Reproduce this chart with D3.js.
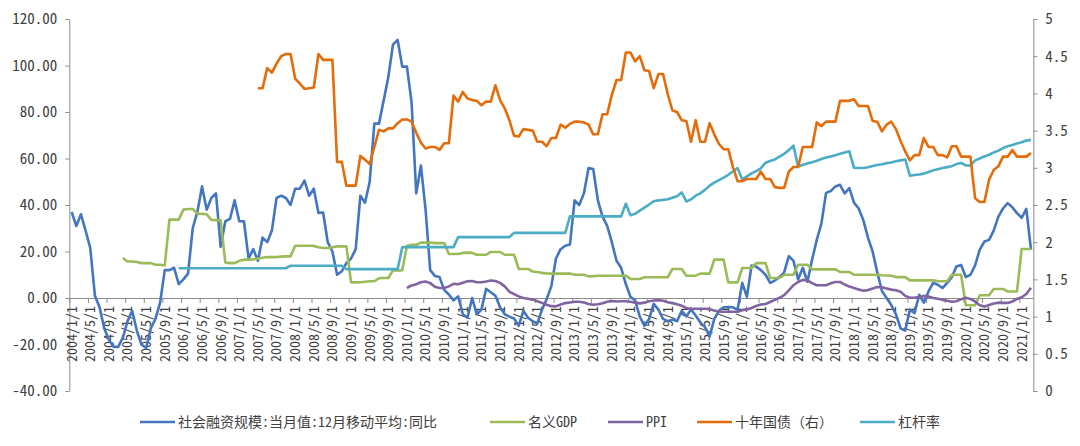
<!DOCTYPE html>
<html>
<head>
<meta charset="utf-8">
<script src="https://cdn.jsdelivr.net/npm/d3@7"></script>
<style>
  html, body { margin: 0; padding: 0; background: #fff; }
  svg { display: block; }
  text { font-family: "Noto Sans Mono CJK SC", "Noto Sans CJK SC", sans-serif; fill: #404040; }
</style>
</head>
<body>
<svg id="chart" width="1080" height="446"></svg>
<script>
// ---------- DATA ----------
const startYear = 2004, monthCount = 207; // 2004/1 .. 2021/3
const months = d3.range(monthCount).map(i => `${startYear + Math.floor(i / 12)}/${(i % 12) + 1}/1`);

const seriesNames = ["社会融资规模:当月值:12月移动平均:同比", "名义GDP", "PPI", "十年国债（右）", "杠杆率"];

const tsf = [
  37, 31, 36, 29, 21.5, 1, -4, -13, -18, -21,
  -21, -17, -10, -5.5, -14, -20, -21.5, -13, -9, -2,
  12, 12, 13, 6, 8, 10.5, 30, 37, 48, 38,
  43, 45, 22, 33, 34, 42, 33, 33, 17, 21,
  16, 26, 24, 29, 43, 44, 43, 40, 47, 47,
  50.5, 44, 47, 36.6, 36.8, 24, 20, 10, 11.5, 15,
  17, 21, 44, 41, 50, 75, 75, 85, 95, 109,
  111, 99.5, 99.5, 84, 45, 57, 38, 12, 9.5, 9,
  3.5, 1.5, -1, 0.7, -7, -8.5, 0, -7, -5, 4,
  2.5, 1, -4, -7, -8, -8.8, -12, -5.5, -8.5, -10,
  -11, -5, -0.5, 5, 17, 21, 22.5, 23, 42, 40,
  45, 55.9, 55.5, 42, 35, 31, 24, 16, 13, 6,
  0.5, -1, -8, -12, -9, -2.5, -5, -9, -10, -9.3,
  -10, -5.5, -7.9, -5, -7.5, -10.5, -12.5, -16.5, -9, -5.5,
  -4, -3.9, -4, -5, 6.5, 0.5, 14, 13.5, 12, 10,
  6.5, 7.5, 9, 11, 18, 16, 8, 13, 7, 16.5,
  25, 32, 45.2, 46, 48, 48.7, 45, 47.3, 41, 38.5,
  33.5, 26, 20, 11, 3, 0, -3, -7, -13, -14,
  -5, -6.5, 1.4, -2, 2.8, 6.5, 5.7, 4.3, 6.5, 9,
  13.6, 14.2, 9, 10, 14, 20.8, 24.3, 25, 29, 35,
  38.5, 40.8, 39, 36.5, 34.5, 38.3, 20.8
];

const gdp = [
  null, null, null, null, null, null, null, null, null, null, null,
  17.2, 15.7, 15.7, 15.5, 15, 15, 15, 14.3, 14.3, 14,
  33.7, 33.7, 33.7, 38, 38.3, 38.3, 36.3, 36.2, 36, 33.6, 33.5, 33.4,
  15.3, 15, 15, 16, 16.5, 16.5, 16.6, 17, 17.3, 17.6, 17.6, 17.6,
  17.8, 17.9, 17.9, 22.5, 22.5, 22.5, 22.5, 22.4, 21.8, 21.5, 21.5, 21.8,
  22.2, 22.2, 22.2, 6.7, 6.7, 6.8, 7, 7.2, 7.2, 8.5, 8.6, 8.6,
  11.9, 11.9, 11.9, 22.5, 22.9, 22.9, 23.8, 23.9, 23.8, 23.6, 23.6, 23.6,
  18.9, 18.9, 18.9, 19.4, 19.5, 19.4, 18.6, 18.6, 18.6, 19.8, 19.8, 19.8,
  18.6, 18.6, 18.6, 12.5, 12.5, 12.5, 11.4, 11.2, 10.8, 10.6, 10.5, 10.5,
  10.5, 10.5, 10.5, 10, 10, 10, 9.3, 9.4, 9.6, 9.6, 9.6, 9.6,
  9.6, 9.6, 9.6, 8.2, 8.2, 8.2, 8.9, 8.9, 8.9, 8.9, 8.9, 8.9,
  12.5, 12.5, 12.5, 9.6, 9.6, 9.6, 10.5, 10.5, 10.5, 16.5, 16.5, 16.5,
  6.7, 6.7, 6.7, 12.9, 12.9, 12.9, 15, 15, 15, 8.6, 8.6, 8.6,
  10, 10, 10, 14.3, 14.3, 14.3, 12.3, 12.3, 12.3, 12.3, 12.3, 12.3,
  11.2, 11.2, 11.2, 10, 10, 10, 10, 10, 10, 9.8, 9.7, 9.6,
  9, 9, 9, 7.6, 7.6, 7.6, 7.6, 7.6, 7.6, 7.2, 7.2, 7.2,
  10, 10, 10, -3.1, -3.1, -3.1, 1.2, 1.2, 1.2, 3.9, 3.9, 3.9,
  2.8, 2.8, 2.8, 21.1, 21.1, 21.1
];

const ppi = [
  null, null, null, null, null, null, null, null, null, null, null, null,
  null, null, null, null, null, null, null, null, null, null, null, null,
  null, null, null, null, null, null, null, null, null, null, null, null,
  null, null, null, null, null, null, null, null, null, null, null, null,
  null, null, null, null, null, null, null, null, null, null, null, null,
  null, null, null, null, null, null, null, null, null, null, null, null,
  4.3, 5.4, 5.9, 6.8, 7.1, 6.4, 4.8, 4.3, 4.3, 5.0, 6.1, 5.9,
  6.6, 7.2, 7.3, 6.8, 6.8, 7.1, 7.5, 7.3, 6.5, 5.0, 2.7, 1.7,
  0.7, 0.0, -0.3, -0.7, -1.4, -2.1, -2.9, -3.5, -3.6, -2.8, -2.2, -1.9,
  -1.6, -1.6, -1.9, -2.6, -2.9, -2.7, -2.3, -1.6, -1.3, -1.5, -1.4, -1.4,
  -1.6, -2.0, -2.3, -2.0, -1.4, -1.1, -0.9, -1.2, -1.8, -2.2, -2.7, -3.3,
  -4.3, -4.8, -4.6, -4.6, -4.6, -4.8, -5.4, -5.9, -5.9, -5.9, -5.9, -5.9,
  -5.3, -4.9, -4.3, -3.4, -2.8, -2.6, -1.7, -0.8, 0.1, 1.2, 3.3, 5.5,
  6.9, 7.8, 7.6, 6.4, 5.5, 5.5, 5.5, 6.3, 6.9, 6.9, 5.8, 4.9,
  4.3, 3.7, 3.1, 3.4, 4.1, 4.7, 4.6, 4.1, 3.6, 3.3, 2.7, 0.9,
  0.1, 0.1, 0.4, 0.9, 0.6, 0.0, -0.3, -0.8, -1.2, -1.6, -1.4, -0.5,
  0.1, -0.4, -1.5, -3.1, -3.7, -3.0, -2.4, -2.0, -2.1, -2.1, -1.5, -0.4,
  0.3, 1.7, 4.4
];

const bond10y = [
  null, null, null, null, null, null, null, null, null, null,
  null, null, null, null, null, null, null, null, null, null,
  null, null, null, null, null, null, null, null, null, null,
  null, null, null, null, null, null, null, null, null, null,
  4.07, 4.07, 4.34, 4.28, 4.4, 4.5, 4.53, 4.53, 4.2, 4.13,
  4.06, 4.07, 4.08, 4.53, 4.45, 4.45, 4.45, 3.08, 3.08, 2.76,
  2.76, 2.76, 3.16, 3.11, 3.05, 3.28, 3.51, 3.49, 3.53, 3.53,
  3.6, 3.65, 3.65, 3.62, 3.47, 3.34, 3.26, 3.28, 3.28, 3.24,
  3.33, 3.33, 3.97, 3.89, 4.02, 3.93, 3.91, 3.9, 3.84, 3.89,
  3.89, 4.11, 3.91, 3.8, 3.64, 3.43, 3.42, 3.52, 3.51, 3.5,
  3.35, 3.35, 3.29, 3.4, 3.4, 3.58, 3.54, 3.59, 3.62, 3.62,
  3.61, 3.58, 3.45, 3.45, 3.72, 3.72, 3.98, 4.18, 4.18, 4.55,
  4.55, 4.43, 4.5, 4.31, 4.3, 4.07, 4.26, 4.26, 3.99, 3.77,
  3.75, 3.64, 3.63, 3.35, 3.64, 3.35, 3.35, 3.6, 3.45, 3.32,
  3.25, 3.25, 3.01, 2.82, 2.82, 2.85, 2.85, 2.85, 2.95, 2.85,
  2.85, 2.74, 2.73, 2.73, 2.95, 3.01, 3.01, 3.28, 3.28, 3.28,
  3.61, 3.56, 3.62, 3.62, 3.62, 3.9, 3.9, 3.9, 3.92, 3.83,
  3.83, 3.83, 3.63, 3.62, 3.49, 3.58, 3.62, 3.52, 3.36, 3.22,
  3.1, 3.17, 3.17, 3.4, 3.28, 3.28, 3.17, 3.17, 3.14, 3.29,
  3.29, 3.15, 3.15, 3.15, 2.59, 2.54, 2.54, 2.84, 2.97, 3.02,
  3.15, 3.15, 3.24, 3.15, 3.15, 3.15, 3.2
];

const leverage = [
  null, null, null, null, null, null, null, null, null, null,
  null, null, null, null, null, null, null, null, null, null,
  null, null, null,
  12.8, 12.8, 12.8, 12.8, 12.8, 12.8, 12.8, 12.8, 12.8, 12.8, 12.8, 12.8,
  12.8, 12.8, 12.8, 12.8, 12.8, 12.8, 12.8, 12.8, 12.8, 12.8, 12.8, 12.8,
  13.9, 13.9, 13.9, 13.9, 13.9, 13.9, 13.9, 13.9, 13.9, 13.9, 13.9, 13.9,
  12.4, 12.4, 12.4, 12.4, 12.4, 12.4, 12.4, 12.4, 12.4, 12.4, 12.4, 12.4,
  21.9, 21.9, 21.9, 21.9, 21.9, 21.9, 21.9, 21.9, 21.9, 21.9, 21.9, 21.9,
  26.2, 26.2, 26.2, 26.2, 26.2, 26.2, 26.2, 26.2, 26.2, 26.2, 26.2, 26.2,
  28, 28, 28, 28, 28, 28, 28, 28, 28, 28, 28, 28,
  35.1, 35.1, 35.1, 35.1, 35.1, 35.1, 35.1, 35.1, 35.1, 35.1, 35.1, 35.1,
  40.6, 35.6, 36.2, 37.6, 38.9, 40.2, 41.6, 42, 42.2, 42.5, 43.1,
  43.8, 45.4, 41.5, 42.4, 44, 45, 46.5, 48.3, 49.6, 50.7,
  51.8, 53, 54.4, 55.9, 51, 52.3, 53.6, 54.6, 55.8, 58.2,
  58.9, 59.6, 60.8, 62, 63.6, 65.5, 56.5, 57.3, 57.9, 58.4,
  59, 59.8, 60.4, 60.9, 61.4, 62, 62.6, 63.1, 56, 55.9,
  55.9, 56.2, 56.8, 57.2, 57.5, 58, 58.3, 58.8, 59.2, 59.6,
  52.6, 52.9, 53.1, 53.5, 54.2, 54.9, 55.4, 55.9, 56.3, 56.7,
  57.6, 58.1, 57, 57, 59.2, 60, 60.9, 61.6, 62.6, 63.4,
  64.5, 65.3, 65.8, 66.5, 67, 67.7, 68
];

const leftTicks = [-40, -20, 0, 20, 40, 60, 80, 100, 120];
const rightTicks = [0, 0.5, 1, 1.5, 2, 2.5, 3, 3.5, 4, 4.5, 5];
const labelEvery = 4;

// ---------- LAYOUT ----------
const svg = d3.select("#chart");
const plotL = 69.3, plotR = 1033.3, plotT = 19, plotB = 391;
const axisColor = "#8c8c8c";
const colors = ["#4376bf", "#9bbb59", "#8064a2", "#e46c0a", "#4bacc6"];

const xBand = d3.scaleBand().domain(d3.range(monthCount)).range([plotL, plotR]).paddingInner(0).paddingOuter(0);
const xEdge = d3.scaleLinear().domain([0, monthCount]).range([plotL, plotR]);
const yL = d3.scaleLinear().domain([-40, 120]).range([plotB, plotT]);
const yR = d3.scaleLinear().domain([0, 5]).range([plotB, plotT]);
const cx = i => xBand(i) + xBand.bandwidth() / 2;

// left axis
const gL = svg.append("g").attr("transform", `translate(${plotL},0)`)
  .call(d3.axisLeft(yL).tickValues(leftTicks).tickSize(4).tickSizeOuter(0).tickPadding(8)
    .tickFormat(v => v.toFixed(2)));
// right axis
const gR = svg.append("g").attr("transform", `translate(${plotR},0)`)
  .call(d3.axisRight(yR).tickValues(rightTicks).tickSize(4).tickSizeOuter(0).tickPadding(8)
    .tickFormat(v => String(v)));
[gL, gR].forEach(g => {
  g.selectAll("path, line").attr("stroke", axisColor);
  g.selectAll("text").style("font-size", "15px").attr("fill", "#404040");
});

// x axis: boundary ticks
const gXT = svg.append("g").attr("transform", `translate(0,${yL(0)})`)
  .call(d3.axisBottom(xEdge).tickValues(d3.range(0, monthCount, labelEvery)).tickSize(5).tickSizeOuter(0).tickFormat(""));
gXT.select(".domain").attr("d", `M${plotL},0.5H${plotR}`);
gXT.selectAll("path, line").attr("stroke", axisColor);

// x axis: labels at category centres
const gXL = svg.append("g").attr("transform", `translate(0,${yL(0)})`)
  .call(d3.axisBottom(xBand).tickValues(d3.range(0, monthCount, labelEvery)).tickSize(0).tickFormat(i => months[i]));
gXL.select(".domain").remove();
gXL.selectAll("text")
  .style("font-size", "14px")
  .attr("text-anchor", "end")
  .attr("transform", "translate(0,8) rotate(-90)")
  .attr("x", 0).attr("y", 0).attr("dy", "0.35em");

// lines
const mk = (arr, y) => d3.line().defined(d => d != null).x((d, i) => cx(i)).y(d => y(d));
const drawOrder = [
  { data: tsf, y: yL, c: colors[0] },
  { data: gdp, y: yL, c: colors[1] },
  { data: ppi, y: yL, c: colors[2] },
  { data: leverage, y: yL, c: colors[4] },
  { data: bond10y, y: yR, c: colors[3] }
];
drawOrder.forEach(s => {
  svg.append("path").datum(s.data)
    .attr("fill", "none").attr("stroke", s.c).attr("stroke-width", 2.6)
    .attr("stroke-linejoin", "round").attr("stroke-linecap", "butt")
    .attr("d", mk(s.data, s.y));
});

// legend
const legendX = [140, 490, 608, 697, 860];
const legY = 422;
const lg = svg.append("g");
seriesNames.forEach((n, k) => {
  lg.append("line").attr("x1", legendX[k]).attr("x2", legendX[k] + 35)
    .attr("y1", legY).attr("y2", legY).attr("stroke", colors[k]).attr("stroke-width", 2.6);
  lg.append("text").attr("x", legendX[k] + 38).attr("y", legY).attr("dy", "0.35em")
    .style("font-size", "14px").text(n);
});
</script>
</body>
</html>
